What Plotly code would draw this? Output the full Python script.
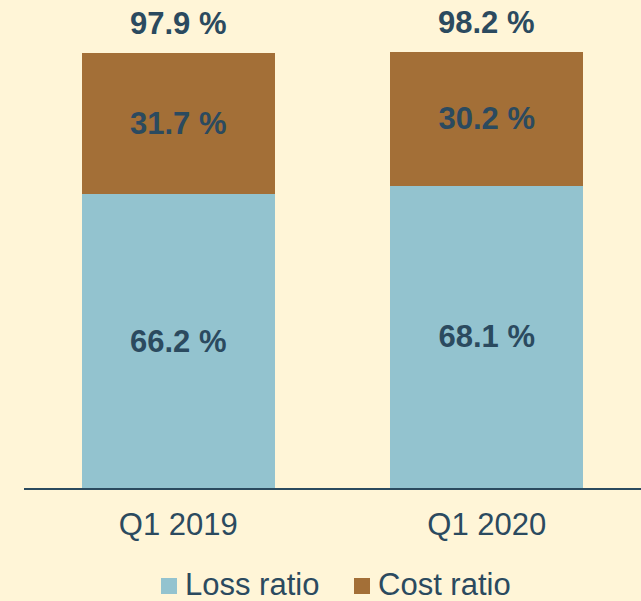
import plotly.graph_objects as go

categories = ["Q1 2019", "Q1 2020"]
loss_ratio = [66.2, 68.1]
cost_ratio = [31.7, 30.2]
combined_ratio = [97.9, 98.2]
series_names = ["Loss ratio", "Cost ratio"]

BG = "#FFF5D7"
BLUE = "#93C3CF"
BROWN = "#A36F37"
TEXT = "#2B4A5F"
FONT = "Liberation Sans, Arial, sans-serif"

W, H = 641, 601
L, R, T, B = 24, 0, 0, 113
plot_w = W - L - R
plot_h = H - T - B

fig = go.Figure()
fig.add_trace(go.Bar(
    x=categories, y=loss_ratio, name=series_names[0],
    marker=dict(color=BLUE, line=dict(width=0)),
    texttemplate="<b>%{y:.1f} %</b>", textposition="inside",
    insidetextanchor="middle",
    textfont=dict(family=FONT, size=31, color=TEXT),
    showlegend=False,
))
fig.add_trace(go.Bar(
    x=categories, y=cost_ratio, name=series_names[1],
    marker=dict(color=BROWN, line=dict(width=0)),
    texttemplate="<b>%{y:.1f} %</b>", textposition="inside",
    insidetextanchor="middle",
    textfont=dict(family=FONT, size=31, color=TEXT),
    showlegend=False,
))

def px_to_paper_x(px):
    return (px - L) / plot_w

def px_to_paper_y(py):
    return (T + plot_h - py) / plot_h

annotations = []
for cat, tot in zip(categories, combined_ratio):
    annotations.append(dict(
        x=cat, y=tot, xref="x", yref="y",
        text=f"<b>{tot:.1f} %</b>", showarrow=False,
        xanchor="center", yanchor="bottom", yshift=10,
        font=dict(family=FONT, size=31, color=TEXT),
    ))

# Legend drawn manually to match sizes
legend_items = [
    (series_names[0], BLUE, 161),
    (series_names[1], BROWN, 354),
]
shapes = []
for name, color, x0 in legend_items:
    shapes.append(dict(
        type="rect", xref="paper", yref="paper",
        x0=px_to_paper_x(x0), x1=px_to_paper_x(x0 + 16),
        y0=px_to_paper_y(594), y1=px_to_paper_y(578),
        fillcolor=color, line=dict(width=0),
    ))
    annotations.append(dict(
        text=name, xref="paper", yref="paper",
        x=px_to_paper_x(x0 + 22), y=px_to_paper_y(584),
        xanchor="left", yanchor="middle", showarrow=False,
        font=dict(family=FONT, size=31, color=TEXT),
    ))

fig.update_layout(
    width=W, height=H,
    margin=dict(l=L, r=R, t=T, b=B),
    paper_bgcolor=BG, plot_bgcolor=BG,
    barmode="stack", bargap=0.373,
    font=dict(family=FONT, size=31, color=TEXT),
    xaxis=dict(
        showline=True, linecolor=TEXT, linewidth=2,
        ticks="", showgrid=False, zeroline=False,
        tickfont=dict(family=FONT, size=31, color=TEXT),
        ticklabelstandoff=8,
    ),
    yaxis=dict(
        range=[0, 109.9], visible=False, showgrid=False, zeroline=False,
    ),
    shapes=shapes,
    annotations=annotations,
    uniformtext=dict(mode="show", minsize=10),
)

fig.write_html(
    "out.html",
    config={"displayModeBar": False},
    post_script="document.body.style.margin='0';document.body.style.background='" + BG + "';",
)
